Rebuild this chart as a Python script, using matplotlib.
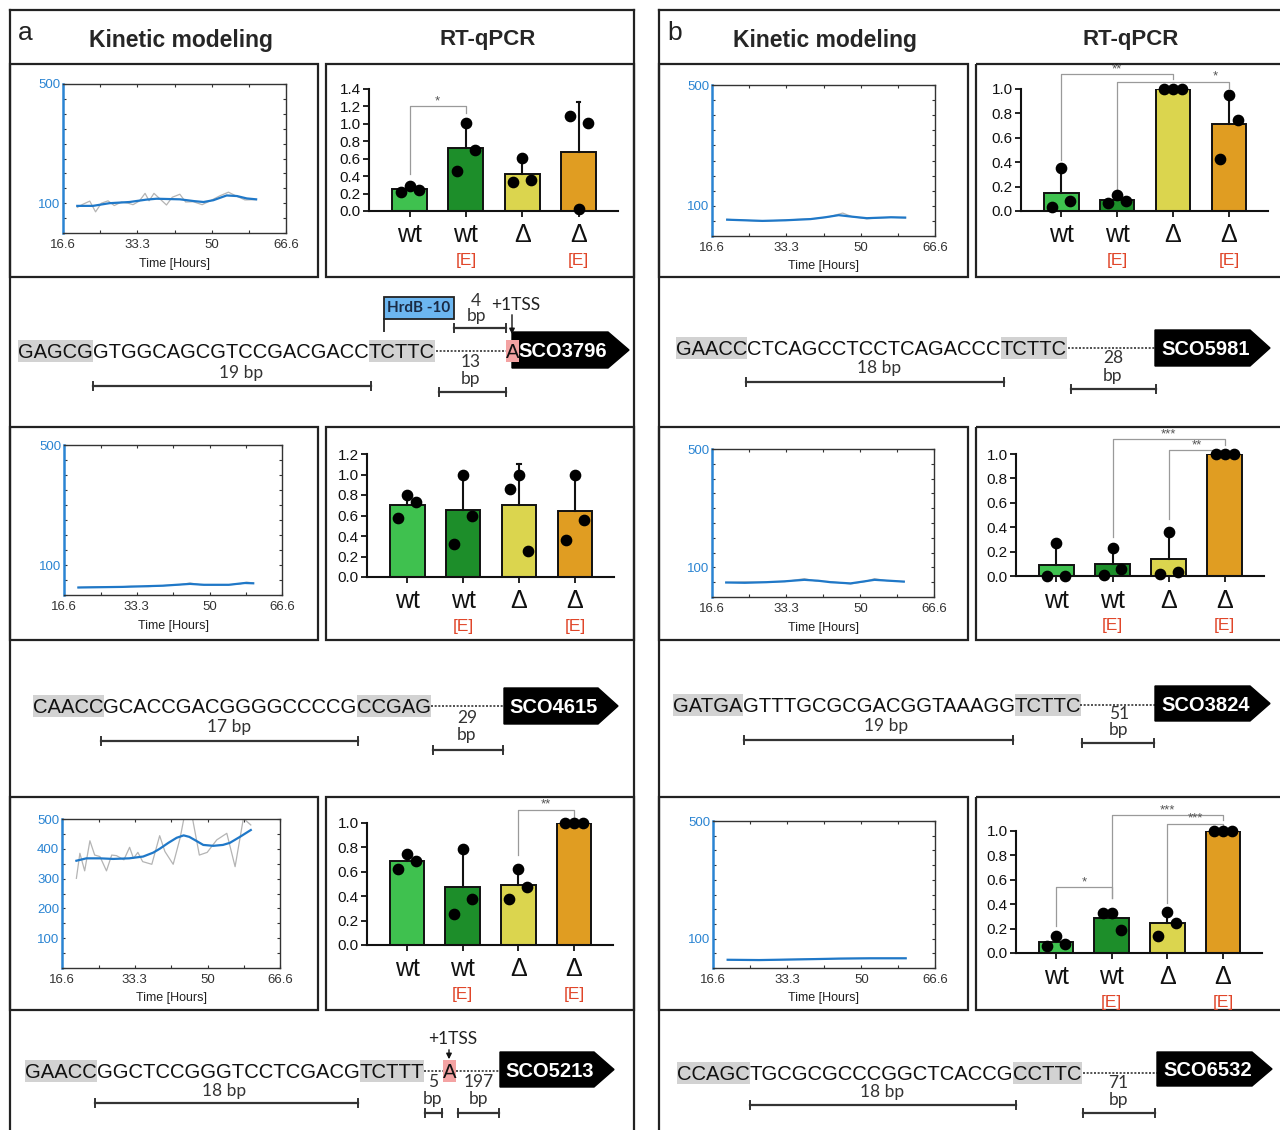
import numpy as np
import matplotlib
matplotlib.use("Agg")
import matplotlib.pyplot as plt
from matplotlib.patches import Rectangle, Polygon

plt.rcParams['font.family'] = ['Liberation Sans', 'DejaVu Sans']

# ---------------------------------------------------------------- data
groups = ['wt', 'wt', 'Δ', 'Δ']
group_tags = ['', '[E]', '', '[E]']
bar_colors = ['#3fc14f', '#1d8e2a', '#dbd54e', '#e09d22']
kin_xticks = [16.6, 33.3, 50, 66.6]
kin_xminor = [25, 41.6, 58.3]

# kinetic modelling: raw (grey) and fitted (blue) traces
grey_t_SCO3796 = [19.8, 21.0, 22.6, 23.9, 25.2, 26.7, 28.1, 29.7, 31.2, 32.3, 33.7, 35.0, 35.9, 37.0,
                  38.3, 39.8, 41.1, 42.8, 44.1, 45.8, 47.8, 49.6, 51.8, 53.7, 55.6, 57.4, 59.9]
grey_v_SCO3796 = [86, 96, 107, 71, 100, 108, 92, 104, 100, 95, 107, 133, 108, 133,
                  115, 94, 120, 130, 104, 105, 95, 108, 125, 137, 123, 111, 112]
fit_t_SCO3796 = [19.8, 23.3, 27.0, 31.5, 35.3, 37.6, 42.8, 46.0, 48.1, 50.3, 53.3, 55.6, 57.8, 59.9]
fit_v_SCO3796 = [91, 91, 100, 104, 112, 115, 113, 107, 104, 110, 126, 124, 116, 113]

grey_t_SCO4615 = [19.9, 24, 28, 32, 36, 40, 43, 45.5, 48, 51, 54.4, 57, 58.5, 60]
grey_v_SCO4615 = [25, 27, 26, 29, 28, 32, 34, 40, 34, 33, 34, 37, 43, 40]
fit_t_SCO4615 = [19.9, 29.9, 39.3, 45.5, 48.7, 54.4, 58.1, 60.0]
fit_v_SCO4615 = [25, 27, 31, 37, 34, 34, 40, 39]

grey_t_SCO5213 = [19.9, 20.7, 21.8, 23.0, 24.1, 25.3, 26.8, 28.0, 29.1, 30.8, 32.1, 33.0, 34.0, 35.1,
                  37.2, 39.0, 40.2, 42.1, 43.7, 44.8, 46.3, 48.1, 49.9, 52.1, 54.4, 56.3, 58.2, 59.9]
grey_v_SCO5213 = [301, 385, 326, 427, 379, 374, 326, 379, 377, 363, 405, 368, 388, 357,
                  348, 444, 391, 348, 437, 520, 520, 379, 388, 430, 452, 340, 502, 480]
fit_t_SCO5213 = [19.9, 22.2, 25.3, 28.3, 32.0, 35.2, 37.5, 39.0, 41.0, 42.9, 44.5, 45.8, 47.0,
                 49.0, 51.3, 53.5, 55.1, 57.4, 59.9]
fit_v_SCO5213 = [360, 368, 368, 366, 368, 374, 387, 400, 420, 437, 445, 440, 430,
                 413, 410, 413, 420, 440, 463]

grey_t_SCO5981 = [20, 24, 28, 32, 36, 40, 43, 45.9, 48, 51.3, 54, 57, 60]
grey_v_SCO5981 = [55, 52, 49, 52, 55, 58, 64, 76, 64, 57, 60, 62, 60]
fit_t_SCO5981 = [20.0, 24, 27.9, 33, 38.7, 42, 45.0, 48, 51.3, 56.7, 59.9]
fit_v_SCO5981 = [54, 52, 50, 52, 56, 62, 69, 64, 59, 62, 61]

grey_t_SCO3824 = [19.8, 24, 28.8, 33, 37.4, 40, 43.3, 47.8, 51, 53.2, 56, 59.8]
grey_v_SCO3824 = [49, 51, 50, 52, 62, 54, 52, 44, 52, 62, 55, 52]
fit_t_SCO3824 = [19.8, 24, 28.8, 33, 37.4, 40.5, 43.3, 47.8, 51, 53.2, 56.5, 59.8]
fit_v_SCO3824 = [49, 48, 50, 53, 58, 55, 50, 46, 53, 58, 55, 52]

grey_t_SCO6532 = [19.9, 30, 40, 45, 50, 60]
grey_v_SCO6532 = [28, 28, 31, 32, 33, 33]
fit_t_SCO6532 = [19.9, 27, 35, 42, 45, 52, 60]
fit_v_SCO6532 = [28, 27, 29, 31, 32, 33, 33]

yticks_flat = [100, 500]
yticks_full = [100, 200, 300, 400, 500]

# RT-qPCR: bar means, top of SD bar, replicate dots (left, centre, right), significance
means_SCO3796 = [0.25, 0.72, 0.43, 0.68]
sdtop_SCO3796 = [0.27, 1.01, 0.60, 1.25]
dots_SCO3796 = [[0.22, 0.29, 0.24], [0.46, 1.01, 0.70], [0.33, 0.61, 0.36], [1.09, 0.02, 1.01]]
sig_SCO3796 = [(0, 1, 1.20, 0.43, 1.13, '*', 0.5)]

means_SCO4615 = [0.70, 0.65, 0.70, 0.645]
sdtop_SCO4615 = [0.77, 1.00, 1.10, 1.00]
dots_SCO4615 = [[0.58, 0.80, 0.73], [0.32, 1.00, 0.60], [0.86, 1.00, 0.25], [0.36, 1.00, 0.56]]
sig_SCO4615 = []

means_SCO5213 = [0.685, 0.474, 0.493, 1.0]
sdtop_SCO5213 = [0.73, 0.79, 0.62, 1.0]
dots_SCO5213 = [[0.62, 0.75, 0.69], [0.255, 0.786, 0.378], [0.378, 0.622, 0.479], [1.0, 1.0, 1.0]]
sig_SCO5213 = [(2, 3, 1.11, 0.74, 1.05, '**', 2.5)]

means_SCO5981 = [0.15, 0.093, 1.0, 0.712]
sdtop_SCO5981 = [0.353, 0.13, 1.0, 0.95]
dots_SCO5981 = [[0.033, 0.353, 0.082], [0.068, 0.129, 0.082], [1.0, 1.0, 1.0], [0.43, 0.95, 0.75]]
sig_SCO5981 = [(0, 2, 1.12, 0.42, 1.08, '**', 1.0), (1, 3, 1.06, 0.16, 1.01, '*', 2.75)]

means_SCO3824 = [0.09, 0.098, 0.137, 1.0]
sdtop_SCO3824 = [0.27, 0.232, 0.363, 1.0]
dots_SCO3824 = [[0.0, 0.27, 0.0], [0.008, 0.232, 0.055], [0.016, 0.363, 0.036], [1.0, 1.0, 1.0]]
sig_SCO3824 = [(1, 3, 1.12, 0.32, 1.07, '***', 2.0), (2, 3, 1.03, 0.47, 1.006, '**', 2.5)]

means_SCO6532 = [0.087, 0.286, 0.245, 1.0]
sdtop_SCO6532 = [0.136, 0.33, 0.34, 1.0]
dots_SCO6532 = [[0.054, 0.136, 0.074], [0.33, 0.33, 0.19], [0.14, 0.34, 0.25], [1.0, 1.0, 1.0]]
sig_SCO6532 = [(0, 1, 0.54, 0.22, 0.45, '*', 0.5), (1, 3, 1.13, 0.45, 1.09, '***', 2.0),
               (2, 3, 1.06, 0.41, 1.04, '***', 2.5)]

ymax_SCO3796, ymax_SCO4615 = 1.4, 1.2
ymax_other = 1.0

# promoter sequences
seq_SCO3796 = 'GAGCGGTGGCAGCGTCCGACGACCTCTTC'
seq_SCO4615 = 'CAACCGCACCGACGGGGCCCCGCCGAG'
seq_SCO5213 = 'GAACCGGCTCCGGGTCCTCGACGTCTTT'
seq_SCO5981 = 'GAACCCTCAGCCTCCTCAGACCCTCTTC'
seq_SCO3824 = 'GATGAGTTTGCGCGACGGTAAAGGTCTTC'
seq_SCO6532 = 'CCAGCTGCGCGCCCGGCTCACCGCCTTC'
core_bp = [19, 17, 18, 18, 19, 18]
spacer_bp_SCO3796 = 13
spacer_bp_SCO4615 = 29
spacer_bp_SCO5213 = [5, 197]
spacer_bp_SCO5981 = 28
spacer_bp_SCO3824 = 51
spacer_bp_SCO6532 = 71
hrdb_gap_bp = 4

# ---------------------------------------------------------------- figure
W, H = 1280, 1130
fig = plt.figure(figsize=(W / 100, H / 100), dpi=100)
bg = fig.add_axes([0, 0, 1, 1])
bg.set_xlim(0, W)
bg.set_ylim(H, 0)
bg.axis('off')
renderer = fig.canvas.get_renderer()

BLUE = '#2a84d2'
FRAME = '#222222'


def px_axes(x0, y0, x1, y1):
    return fig.add_axes([x0 / W, 1 - y1 / H, (x1 - x0) / W, (y1 - y0) / H])


def pt2px(fs):
    return fs * 100 / 72


# frames
for (xl, xr) in [(10, 634), (659, 1290)]:
    bg.plot([xl, xl], [10, 1140], color=FRAME, lw=1.6)
    bg.plot([xr, xr], [10, 1140], color=FRAME, lw=1.6)
    bg.plot([xl, xr], [10, 10], color=FRAME, lw=1.6)
rows_y = [(64, 277), (427, 640), (797, 1010)]
boxes_x = [(10, 318), (326, 634), (659, 968), (976, 1290)]
for (y0, y1) in rows_y:
    for (x0, x1) in boxes_x:
        bg.add_patch(Rectangle((x0, y0), x1 - x0, y1 - y0, fill=False, ec=FRAME, lw=1.6))

# headers
for letter, lx, kx, rx in [('a', 25, 181, 488), ('b', 675, 825, 1131)]:
    bg.text(lx, 33, letter, fontsize=19, ha='center', va='center', color='#222')
    bg.text(kx, 40, 'Kinetic modeling', fontsize=16.5, fontweight='bold', ha='center', va='center', color='#262626')
    bg.text(rx, 39, 'RT-qPCR', fontsize=16, fontweight='bold', ha='center', va='center', color='#262626')


# ---------------------------------------------------------------- kinetic plots
def kinetic(rect, gt, gv, ft, fv, yt):
    ax = px_axes(*rect)
    ax.plot(gt, gv, color='#b4b4b4', lw=0.9, zorder=2)
    ax.plot(ft, fv, color='#1f78c8', lw=1.6, zorder=3)
    ax.set_xlim(16.6, 66.6)
    ax.set_ylim(0, 500)
    ax.set_xticks(kin_xticks)
    ax.set_xticklabels(['16.6', '33.3', '50', '66.6'])
    ax.set_xticks(kin_xminor, minor=True)
    ax.set_yticks(yt)
    ax.set_yticklabels([str(v) for v in yt])
    ax.set_yticks(np.arange(0, 501, 50), minor=True)
    ax.tick_params(which='both', direction='in', top=True, right=True, length=2.5, width=0.8,
                   color='#333', labelsize=9.5, labelcolor='#333', pad=4)
    ax.tick_params(axis='y', labelcolor=BLUE, pad=2)
    for s in ['top', 'right', 'bottom']:
        ax.spines[s].set_color('#333')
        ax.spines[s].set_linewidth(1.0)
    ax.spines['left'].set_color(BLUE)
    ax.spines['left'].set_linewidth(1.8)
    ax.set_xlabel('Time [Hours]', fontsize=9, color='#222', labelpad=5)
    return ax


kinetic((63, 84, 286, 233), grey_t_SCO3796, grey_v_SCO3796, fit_t_SCO3796, fit_v_SCO3796, yticks_flat)
kinetic((64, 445, 282, 595), grey_t_SCO4615, grey_v_SCO4615, fit_t_SCO4615, fit_v_SCO4615, yticks_flat)
kinetic((62, 819, 280, 968), grey_t_SCO5213, grey_v_SCO5213, fit_t_SCO5213, fit_v_SCO5213, yticks_full)
kinetic((712, 85, 935, 236), grey_t_SCO5981, grey_v_SCO5981, fit_t_SCO5981, fit_v_SCO5981, yticks_flat)
kinetic((712, 449, 934, 597), grey_t_SCO3824, grey_v_SCO3824, fit_t_SCO3824, fit_v_SCO3824, yticks_flat)
kinetic((713, 821, 935, 968), grey_t_SCO6532, grey_v_SCO6532, fit_t_SCO6532, fit_v_SCO6532, yticks_flat)


# ---------------------------------------------------------------- bar plots
def barplot(rect, ymax, means, tops, dots, sigs):
    ax = px_axes(*rect)
    x = np.arange(len(groups))
    ax.bar(x, means, width=0.62, color=bar_colors, edgecolor='#111', linewidth=1.4, zorder=2)
    for i in x:
        if tops[i] > means[i] + 0.005:
            ax.plot([i, i], [means[i], tops[i]], color='#111', lw=1.5, zorder=3, clip_on=False)
            ax.plot([i - 0.03, i + 0.03], [tops[i], tops[i]], color='#111', lw=1.5, zorder=3, clip_on=False)
    offs = [-0.16, 0.0, 0.16]
    for i in x:
        for k, v in enumerate(dots[i]):
            ax.plot(i + offs[k], v, 'o', ms=7.4, color='black', zorder=5, clip_on=False)
    for (i, j, yl, lb, rb, lab, sx) in sigs:
        ax.plot([i, i, j, j], [lb, yl, yl, rb], color='#9a9a9a', lw=0.9, zorder=1, clip_on=False)
        ax.text(sx, yl - 0.01, lab, ha='center', va='bottom', fontsize=9.5, color='#555')
    ax.set_xlim(-0.72, 3.70)
    ax.set_ylim(0, ymax)
    yt = np.arange(0, ymax + 1e-9, 0.2)
    ax.set_yticks(yt)
    ax.set_yticklabels(['%.1f' % v for v in yt])
    ax.set_xticks(x)
    ax.set_xticklabels([])
    ax.tick_params(axis='both', direction='out', length=4, width=1.3, labelsize=11, colors='#111', pad=2)
    for s in ['top', 'right']:
        ax.spines[s].set_visible(False)
    for s in ['left', 'bottom']:
        ax.spines[s].set_linewidth(1.5)
        ax.spines[s].set_color('#111')
    for i in x:
        ax.annotate(groups[i], xy=(i, 0), xytext=(0, -9), textcoords='offset points',
                    ha='center', va='top', fontsize=18, color='#111')
        if group_tags[i]:
            ax.annotate(group_tags[i], xy=(i, 0), xytext=(0, -30), textcoords='offset points',
                        ha='center', va='top', fontsize=12.5, color='#e0462a')
    return ax


barplot((369, 89, 618, 211), ymax_SCO3796, means_SCO3796, sdtop_SCO3796, dots_SCO3796, sig_SCO3796)
barplot((367, 454, 614, 577), ymax_SCO4615, means_SCO4615, sdtop_SCO4615, dots_SCO4615, sig_SCO4615)
barplot((367, 823, 613, 945), ymax_other, means_SCO5213, sdtop_SCO5213, dots_SCO5213, sig_SCO5213)
barplot((1021, 89, 1268, 211), ymax_other, means_SCO5981, sdtop_SCO5981, dots_SCO5981, sig_SCO5981)
barplot((1016, 454, 1264, 576), ymax_other, means_SCO3824, sdtop_SCO3824, dots_SCO3824, sig_SCO3824)
barplot((1016, 831, 1262, 953), ymax_other, means_SCO6532, sdtop_SCO6532, dots_SCO6532, sig_SCO6532)


# ---------------------------------------------------------------- promoter diagrams
def draw_seq(x0, x1, yc, s):
    probe = bg.text(0, 0, s, fontsize=20)
    w = probe.get_window_extent(renderer).width
    probe.remove()
    fs = 20 * (x1 - x0) / w
    base = yc + 0.716 * pt2px(fs) / 2
    x = x0
    for txt, hl in [(s[:5], True), (s[5:-5], False), (s[-5:], True)]:
        t = bg.text(x, base, txt, fontsize=fs, ha='left', va='baseline', color='#111', zorder=3)
        tw = t.get_window_extent(renderer).width
        if hl:
            bg.add_patch(Rectangle((x, yc - 11), tw, 22, color='#d2d2d2', lw=0, zorder=2))
        x += tw
    return fs


def dotted(xa, xb, y):
    bg.plot([xa, xb], [y, y], color='#333', lw=1.2, ls=(0, (1.2, 1.0)), zorder=2)


def gene(x0, xs, x1, yt, yb, name):
    yc = (yt + yb) / 2
    bg.add_patch(Polygon([(x0, yt), (xs, yt), (x1, yc), (xs, yb), (x0, yb)], closed=True,
                         color='black', zorder=3))
    bg.text((x0 + xs) / 2 + 3, yc + 0.716 * pt2px(14.5) / 2, name, color='white', fontweight='bold',
            fontsize=14.5, ha='center', va='baseline', zorder=4)


def scalebar(xa, xb, y):
    bg.plot([xa, xb], [y, y], color='#333', lw=1.6, zorder=2)
    bg.plot([xa, xa], [y - 4, y + 4], color='#333', lw=1.4, zorder=2)
    bg.plot([xb, xb], [y - 4, y + 4], color='#333', lw=1.4, zorder=2)


def bp_label(x, y, txt, fs=12.5):
    bg.text(x, y, txt, fontsize=fs, family=['Lato', 'DejaVu Sans'], ha='center', va='center', color='#333')


def tss_base(xa, xb, yc, fs):
    bg.add_patch(Rectangle((xa, yc - 11), xb - xa, 22, color='#f4a3a3', lw=0, zorder=3.5))
    bg.text((xa + xb) / 2, yc + 0.716 * pt2px(fs) / 2, 'A', fontsize=fs, ha='center', va='baseline',
            color='#111', zorder=4.5)


def tss_mark(x, ylab, ya, yb):
    bg.text(x + 4, ylab, '+1TSS', fontsize=12.5, family=['Lato', 'DejaVu Sans'], ha='center',
            va='center', color='#222')
    bg.annotate('', xy=(x, yb), xytext=(x, ya),
                arrowprops=dict(arrowstyle='-|>', color='#111', lw=1.0, mutation_scale=8))


# SCO3796
fs = draw_seq(18, 436, 351, seq_SCO3796)
dotted(436, 506, 351)
gene(512, 608, 629, 332, 368, 'SCO3796')
tss_base(506, 519, 351, fs)
tss_mark(512, 305, 312, 337)
bg.add_patch(Rectangle((384, 297), 70, 22, fc='#6cb6f0', ec='#222', lw=1.3, zorder=3))
bg.text(419, 308.5, 'HrdB -10', fontsize=11, fontweight='bold', family=['Lato', 'DejaVu Sans'],
        ha='center', va='center', color='#1a2a44', zorder=4)
bg.plot([384, 384], [319, 331], color='#333', lw=1.4)
scalebar(454, 506, 328)
bp_label(476, 301, str(hrdb_gap_bp))
bp_label(476, 316, 'bp')
scalebar(439, 506, 392)
bp_label(471, 362, str(spacer_bp_SCO3796))
bp_label(471, 379, 'bp')
scalebar(93, 371, 386)
bp_label(241, 373, '%d bp' % core_bp[0])

# SCO4615
fs = draw_seq(33, 431, 706, seq_SCO4615)
dotted(431, 504, 706)
gene(504, 598, 618, 688, 724, 'SCO4615')
scalebar(101, 358, 741)
bp_label(229, 727, '%d bp' % core_bp[1])
scalebar(433, 503, 750)
bp_label(467, 718, str(spacer_bp_SCO4615))
bp_label(467, 735, 'bp')

# SCO5213
fs = draw_seq(25, 424, 1071, seq_SCO5213)
dotted(424, 443, 1071)
dotted(456, 500, 1071)
gene(500, 594, 614, 1052, 1087, 'SCO5213')
tss_base(443, 456, 1071, fs)
tss_mark(449, 1039, 1047, 1062)
scalebar(95, 358, 1103)
bp_label(224, 1091, '%d bp' % core_bp[2])
scalebar(425, 442, 1113)
bp_label(433, 1082, str(spacer_bp_SCO5213[0]))
bp_label(433, 1099, 'bp')
scalebar(458, 499, 1113)
bp_label(479, 1082, str(spacer_bp_SCO5213[1]))
bp_label(478, 1099, 'bp')

# SCO5981
fs = draw_seq(676, 1068, 348, seq_SCO5981)
dotted(1068, 1155, 348)
gene(1155, 1250, 1270, 330, 366, 'SCO5981')
scalebar(746, 1004, 382)
bp_label(879, 368, '%d bp' % core_bp[3])
scalebar(1071, 1156, 389)
bp_label(1113, 358, str(spacer_bp_SCO5981))
bp_label(1113, 376, 'bp')

# SCO3824
fs = draw_seq(673, 1080, 705, seq_SCO3824)
dotted(1080, 1155, 705)
gene(1155, 1250, 1270, 686, 721, 'SCO3824')
scalebar(744, 1013, 740)
bp_label(886, 726, '%d bp' % core_bp[4])
scalebar(1082, 1154, 743)
bp_label(1119, 714, str(spacer_bp_SCO3824))
bp_label(1119, 730, 'bp')

# SCO6532
fs = draw_seq(677, 1083, 1073, seq_SCO6532)
dotted(1083, 1157, 1073)
gene(1157, 1252, 1272, 1052, 1086, 'SCO6532')
scalebar(750, 1016, 1105)
bp_label(882, 1092, '%d bp' % core_bp[5])
scalebar(1083, 1155, 1113)
bp_label(1118, 1083, str(spacer_bp_SCO6532))
bp_label(1118, 1100, 'bp')

fig.savefig('out.png', dpi=100)
